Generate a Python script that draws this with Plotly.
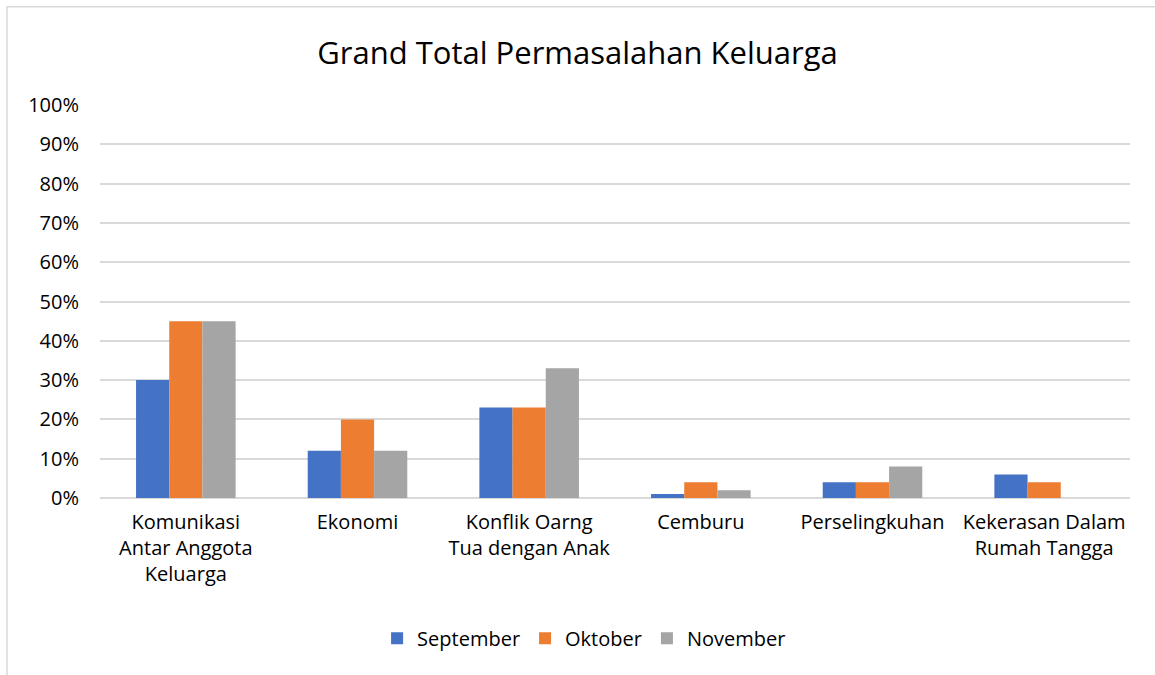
import plotly.graph_objects as go

categories = ["Komunikasi<br>Antar Anggota<br>Keluarga", "Ekonomi", "Konflik Oarng<br>Tua dengan Anak",
              "Cemburu", "Perselingkuhan", "Kekerasan Dalam<br>Rumah Tangga"]
september = [0.30, 0.12, 0.23, 0.01, 0.04, 0.06]
oktober = [0.45, 0.20, 0.23, 0.04, 0.04, 0.04]
november = [0.45, 0.12, 0.33, 0.02, 0.08, 0.0]
series_names = ["September", "Oktober", "November"]
colors = ["#4472C4", "#ED7D31", "#A5A5A5"]

FONT = "Open Sans"
fig = go.Figure()
for name, vals, c in zip(series_names, [september, oktober, november], colors):
    fig.add_trace(go.Bar(name=name, x=categories, y=vals, marker_color=c,
                         marker_line_width=0))

fig.update_layout(
    width=1155, height=675,
    margin=dict(l=100, r=25, t=105, b=177),
    paper_bgcolor="white", plot_bgcolor="white",
    barmode="group", bargap=0.42, bargroupgap=0,
    title=dict(text="Grand Total Permasalahan Keluarga", x=0.5, xanchor="center",
               y=0.922, yanchor="middle",
               font=dict(family=FONT, size=31, color="#000000")),
    font=dict(family=FONT, size=20, color="#000000"),
    legend=dict(orientation="h", x=0.47, xanchor="center", y=-0.357, yanchor="middle",
                font=dict(family=FONT, size=20, color="#000000"), traceorder="normal",
                itemwidth=30),
    showlegend=True,
)
fig.update_yaxes(range=[0, 1.0], dtick=0.1, tickformat=".0%", showgrid=True,
                 gridcolor="#d9d9d9", gridwidth=1.5, zeroline=True, zerolinecolor="#d9d9d9",
                 zerolinewidth=1.5, showline=False, ticks="", ticklen=0,
                 ticklabelstandoff=20,
                 tickfont=dict(family=FONT, size=20, color="#000000"))
fig.update_xaxes(showline=False, ticks="", tickangle=0, ticklabelstandoff=10,
                 tickfont=dict(family=FONT, size=20, color="#000000"))
fig.add_shape(type="rect", xref="paper", yref="paper",
              x0=-93/1030, x1=1.05, y0=-0.5, y1=1.25,
              line=dict(color="#d9d9d9", width=1.5), fillcolor="rgba(0,0,0,0)", layer="below")

fig.write_html("out.html")
